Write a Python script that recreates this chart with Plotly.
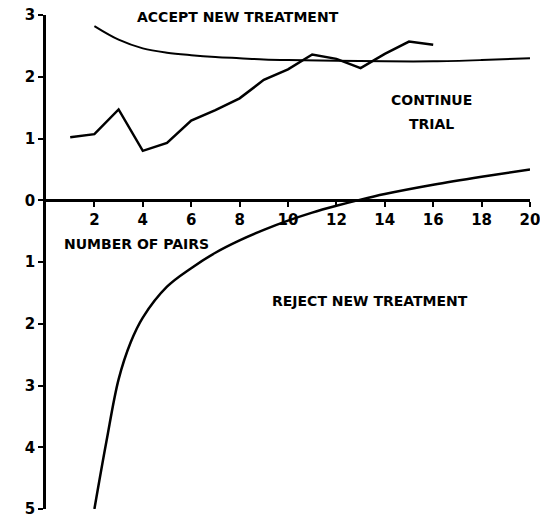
import plotly.graph_objects as go

# Observed path (number of pairs vs U)
pairs = [1, 2, 3, 4, 5, 6, 7, 8, 9, 10, 11, 12, 13, 14, 15, 16]
u_path = [1.02, 1.07, 1.47, 0.80, 0.93, 1.29, 1.46, 1.65, 1.95, 2.12, 2.36, 2.29, 2.14, 2.37, 2.57, 2.52]

# Upper boundary (accept new treatment)
upper_x = [2, 3, 4, 5, 6, 7, 8, 9, 10, 12, 14, 16, 18, 20]
upper_y = [2.82, 2.60, 2.46, 2.39, 2.35, 2.32, 2.30, 2.28, 2.27, 2.26, 2.25, 2.25, 2.27, 2.30]

# Lower boundary (reject new treatment)
lower_x = [2, 2.5, 3, 3.5, 4, 5, 6, 7, 8, 9, 10, 11, 12, 13, 14, 16, 18, 20]
lower_y = [-5.0, -3.9, -2.9, -2.3, -1.9, -1.4, -1.1, -0.85, -0.65, -0.48, -0.33, -0.2, -0.09, 0.01, 0.1, 0.25, 0.38, 0.5]

x_ticks = [2, 4, 6, 8, 10, 12, 14, 16, 18, 20]
y_ticks = [-5, -4, -3, -2, -1, 0, 1, 2, 3]
y_ticktext = ["5", "4", "3", "2", "1", "0", "1", "2", "3"]

FONT = "DejaVu Sans"
fig = go.Figure()
fig.add_trace(go.Scatter(x=upper_x, y=upper_y, mode="lines", line=dict(color="black", width=2, shape="spline"), hoverinfo="skip"))
fig.add_trace(go.Scatter(x=lower_x, y=lower_y, mode="lines", line=dict(color="black", width=2.5, shape="spline"), hoverinfo="skip"))
fig.add_trace(go.Scatter(x=pairs, y=u_path, mode="lines", line=dict(color="black", width=2.5), hoverinfo="skip"))

tf = dict(family=FONT, size=15, color="black", weight="bold")
fig.update_layout(
    width=540, height=518,
    margin=dict(l=46, r=10, t=15, b=9, autoexpand=False),
    paper_bgcolor="white", plot_bgcolor="white",
    showlegend=False,
    xaxis=dict(range=[0, 20], tickvals=x_ticks, ticks="outside", ticklen=5, tickwidth=2,
               tickcolor="black", showline=True, linewidth=2.5, linecolor="black",
               showgrid=False, zeroline=False, anchor="free", position=0.625,
               tickfont=tf, automargin=False, ticklabeloverflow="allow"),
    yaxis=dict(range=[-5, 3], tickvals=y_ticks, ticktext=y_ticktext, ticks="outside",
               ticklen=5, tickwidth=2, tickcolor="black", showline=True, linewidth=2.5,
               linecolor="black", showgrid=False, zeroline=False, tickfont=tf,
               automargin=False, ticklabeloverflow="allow"),
)

af = dict(family=FONT, size=14, color="black", weight="bold")
notes = [
    (7.93, 2.96, "ACCEPT NEW TREATMENT", "center"),
    (15.95, 1.62, "CONTINUE", "center"),
    (15.95, 1.23, "TRIAL", "center"),
    (0.66, -0.71, "NUMBER OF PAIRS", "left"),
    (13.4, -1.63, "REJECT NEW TREATMENT", "center"),
]
for x, y, t, a in notes:
    fig.add_annotation(x=x, y=y, text=t, showarrow=False, xanchor=a, font=af)

fig.add_annotation(x=-1.5, y=0, text="U", showarrow=False, font=tf)
fig.add_annotation(x=-0.5, y=0.5, text="+", showarrow=False, font=tf)
fig.add_annotation(x=-0.5, y=-0.5, text="\u2212", showarrow=False, font=tf)

fig.write_html("out.html", config={"displayModeBar": False},
               post_script="document.body.style.margin='0';document.body.style.overflow='hidden';")
